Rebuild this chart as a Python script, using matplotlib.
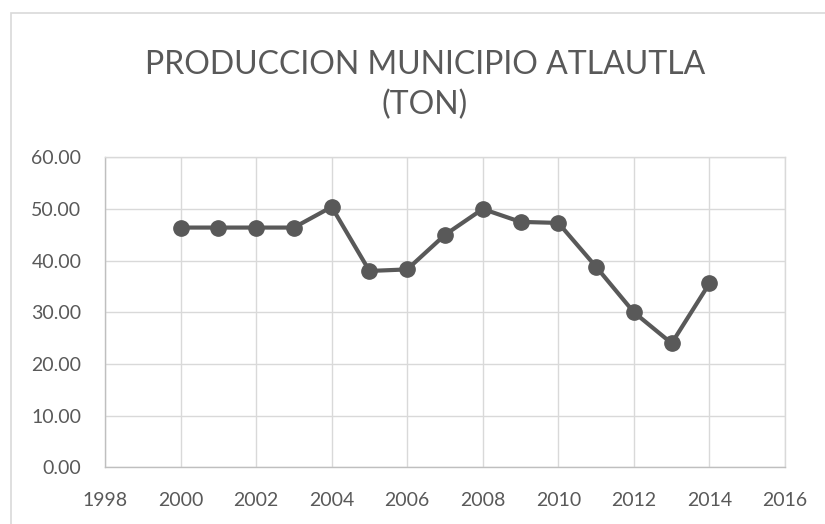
import matplotlib
matplotlib.use("Agg")
import matplotlib.pyplot as plt
from matplotlib.patches import Rectangle

years = [2000, 2001, 2002, 2003, 2004, 2005, 2006, 2007, 2008, 2009, 2010, 2011, 2012, 2013, 2014]
production = [46.4, 46.4, 46.4, 46.4, 50.4, 38.0, 38.3, 45.0, 50.0, 47.5, 47.3, 38.8, 30.0, 24.0, 35.6]
x_ticks = [1998, 2000, 2002, 2004, 2006, 2008, 2010, 2012, 2014, 2016]
y_ticks = [0, 10, 20, 30, 40, 50, 60]
title_lines = ["PRODUCCION MUNICIPIO ATLAUTLA", "(TON)"]

W, H = 825, 524
fig = plt.figure(figsize=(W / 100, H / 100), dpi=100)
plt.rcParams['font.family'] = ['Lato', 'DejaVu Sans']

text_color = '#595959'
grid_color = '#d9d9d9'

# chart border
fig.patches.append(Rectangle((11 / W, -0.05), 1.0, 1 - 13 / H + 0.05,
                             transform=fig.transFigure, fill=False,
                             edgecolor=grid_color, linewidth=1.2))

ax = fig.add_axes([105 / W, 1 - 467.3 / H, (785 - 105) / W, (467.3 - 157.3) / H])
ax.plot(years, production, color=text_color, linewidth=3.0, marker='o',
        markersize=11, markerfacecolor=text_color, markeredgecolor=text_color,
        solid_capstyle='round', zorder=3)

ax.set_xlim(1998, 2016)
ax.set_ylim(0, 60)
ax.set_xticks(x_ticks)
ax.set_xticklabels([str(v) for v in x_ticks])
ax.set_yticks(y_ticks)
ax.set_yticklabels([f"{v:.2f}" for v in y_ticks])
ax.grid(True, color=grid_color, linewidth=1.0, zorder=0)
ax.set_axisbelow(True)
for s in ax.spines.values():
    s.set_color(grid_color)
    s.set_linewidth(1.0)
ax.spines['bottom'].set_color('#bfbfbf')
ax.spines['left'].set_color('#bfbfbf')
ax.tick_params(axis='both', length=0, labelsize=14, colors=text_color)
ax.tick_params(axis='y', pad=17)
ax.tick_params(axis='x', pad=18)

fig.text(425 / W, 1 - 74 / H, title_lines[0], ha='center', va='baseline',
         fontsize=23, color=text_color)
fig.text(425 / W, 1 - 114 / H, title_lines[1], ha='center', va='baseline',
         fontsize=23, color=text_color)

fig.savefig("out.png", dpi=100)
